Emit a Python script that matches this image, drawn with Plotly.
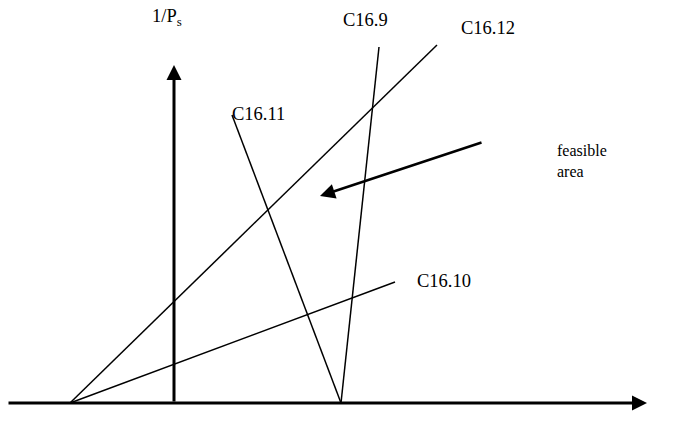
import plotly.graph_objects as go

# Diagram data (abstract units: e along x, 1/Ps along y; origin at axis crossing)
line_names = ["C16.9", "C16.10", "C16.11", "C16.12"]
line_x0 = [16.7, -10.4, 5.8, -10.4]
line_y0 = [0.0, 0.0, 28.8, 0.0]
line_x1 = [20.5, 22.1, 16.7, 26.3]
line_y1 = [35.6, 12.1, 0.0, 35.8]

label_x = [19.1, 27.0, 8.4, 31.4]
label_y = [38.3, 12.2, 28.9, 37.5]

x_axis_range = [-16.7, 47.3]
y_axis_top = 33.8

feasible_from = [30.9, 26.1]
feasible_to = [14.6, 20.7]
feasible_text_pos = [38.1, 24.2]

ylabel_pos = [-0.7, 38.6]
xlabel_pos = [51.6, -1.4]

FONT = "Liberation Serif, Times New Roman, serif"

fig = go.Figure()

for name, xa, ya, xb, yb in zip(line_names, line_x0, line_y0, line_x1, line_y1):
    fig.add_trace(go.Scatter(x=[xa, xb], y=[ya, yb], mode="lines",
                             line=dict(color="black", width=1.5),
                             name=name, showlegend=False, hoverinfo="skip"))

# x-axis title "e" (partly cut by the window edge, as in the original)
fig.add_trace(go.Scatter(x=[xlabel_pos[0]], y=[xlabel_pos[1]], mode="text", text=["e"],
                         textposition="middle center", cliponaxis=False,
                         textfont=dict(family=FONT, size=18, color="black"),
                         showlegend=False, hoverinfo="skip"))

annotations = []
# x axis arrow
annotations.append(dict(x=x_axis_range[1], y=0, ax=x_axis_range[0], ay=0,
                        xref="x", yref="y", axref="x", ayref="y", text="",
                        showarrow=True, arrowhead=2, arrowsize=1, arrowwidth=3,
                        arrowcolor="black", standoff=0))
# y axis arrow
annotations.append(dict(x=0, y=y_axis_top, ax=0, ay=0,
                        xref="x", yref="y", axref="x", ayref="y", text="",
                        showarrow=True, arrowhead=2, arrowsize=1, arrowwidth=3,
                        arrowcolor="black", standoff=0))
# feasible arrow
annotations.append(dict(x=feasible_to[0], y=feasible_to[1], ax=feasible_from[0], ay=feasible_from[1],
                        xref="x", yref="y", axref="x", ayref="y", text="",
                        showarrow=True, arrowhead=2, arrowsize=1.2, arrowwidth=2.5,
                        arrowcolor="black", standoff=0))

for name, lx, ly in zip(line_names, label_x, label_y):
    annotations.append(dict(x=lx, y=ly, xref="x", yref="y", text=name, showarrow=False,
                            font=dict(family=FONT, size=18.5, color="black")))

annotations.append(dict(x=feasible_text_pos[0], y=feasible_text_pos[1], xref="x", yref="y",
                        text="feasible<br>area", showarrow=False, align="left", xanchor="left",
                        font=dict(family=FONT, size=16, color="black")))
annotations.append(dict(x=ylabel_pos[0], y=ylabel_pos[1], xref="x", yref="y",
                        text="1/P<sub>s</sub>", showarrow=False,
                        font=dict(family=FONT, size=18.5, color="black")))

# page has an 8px body margin, so the figure is 686x418 to fill the 694x426 window
fig.update_layout(
    width=686, height=418,
    margin=dict(l=0, r=0, t=0, b=0),
    paper_bgcolor="white", plot_bgcolor="white",
    xaxis=dict(range=[-16.6, 52.0], visible=False, fixedrange=True),
    yaxis=dict(range=[-2.3, 39.5], visible=False, fixedrange=True),
    annotations=annotations,
    showlegend=False,
)

fig.write_html("out.html")
